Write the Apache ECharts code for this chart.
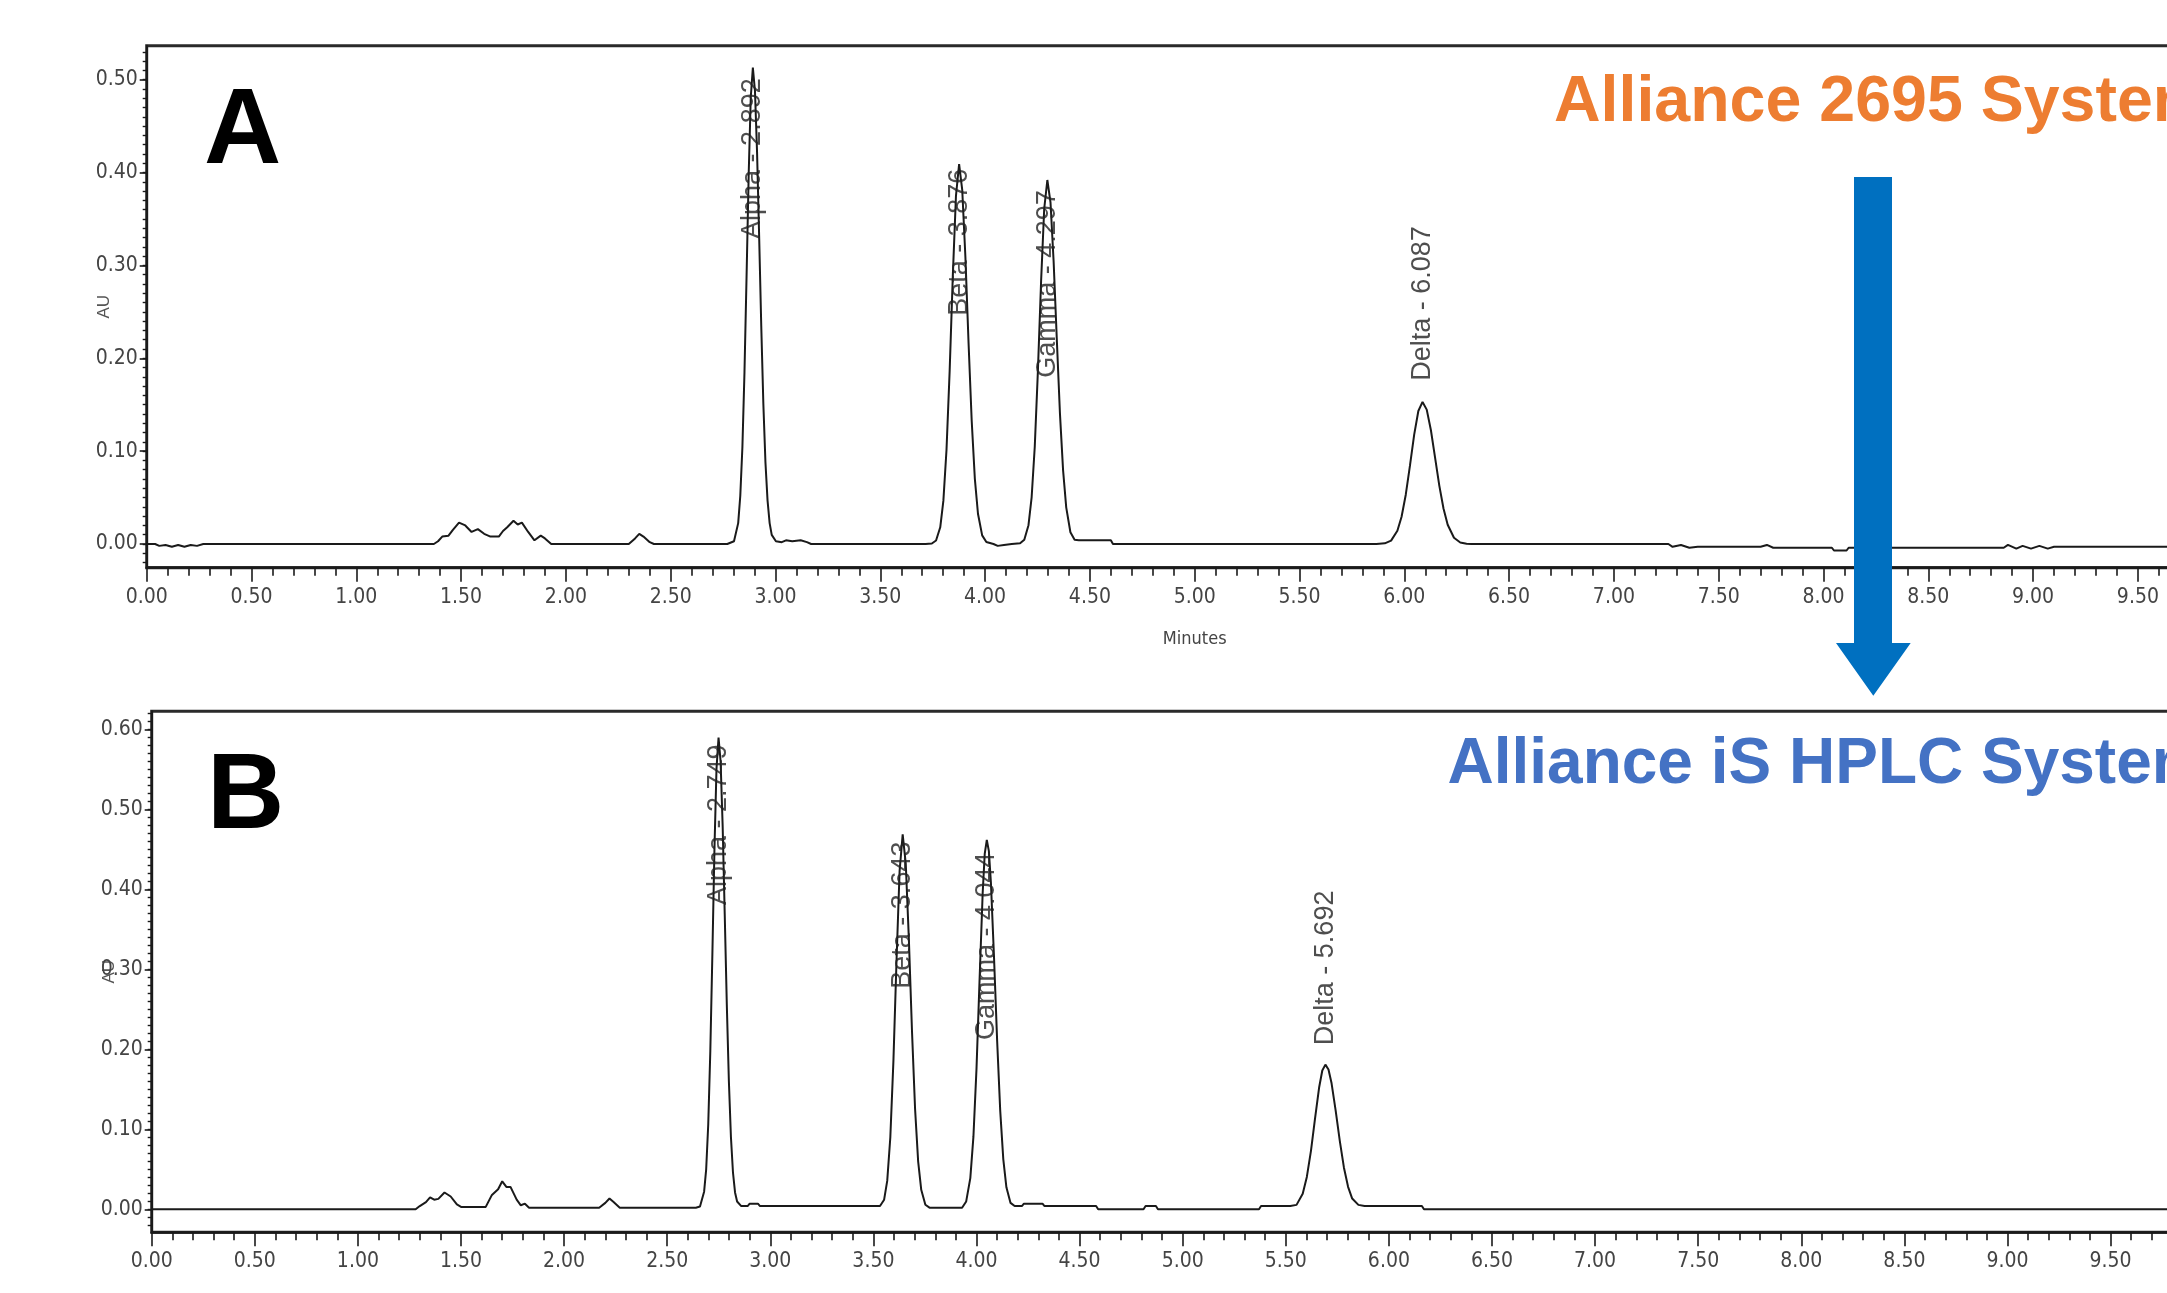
<!DOCTYPE html>
<html>
<head>
<meta charset="utf-8">
<title>Alliance 2695 vs Alliance iS HPLC</title>
<script src="https://cdn.jsdelivr.net/npm/echarts@6/dist/echarts.min.js"></script>
<style>
  html, body { margin: 0; padding: 0; background: #fff; }
  #chart { width: 2167px; height: 1293px; }
</style>
</head>
<body>
<div id="chart"></div>
<script>
// --- chromatogram A : Alliance 2695 (minutes / AU) ---
const timeA = [
  0, 0.04, 0.06, 0.09, 0.12, 0.15, 0.18, 0.21, 0.24, 0.27,
  1.37, 1.39, 1.41, 1.44, 1.46, 1.49, 1.52, 1.55, 1.58, 1.61, 1.64, 1.68, 1.70, 1.72, 1.75, 1.77, 1.79, 1.82, 1.85, 1.88, 1.90, 1.93,
  2.30, 2.33, 2.35, 2.37, 2.40, 2.42,
  2.77, 2.802, 2.822, 2.832, 2.842, 2.852, 2.862, 2.872, 2.882, 2.892, 2.902, 2.912, 2.922, 2.932, 2.942, 2.952, 2.962, 2.972, 2.982, 3.002,
  3.03, 3.05, 3.08, 3.12, 3.15, 3.17,
  3.716, 3.746, 3.766, 3.786, 3.801, 3.816, 3.831, 3.846, 3.861, 3.876, 3.891, 3.906, 3.921, 3.936, 3.951, 3.966, 3.986, 4.006,
  4.04, 4.06, 4.09,
  4.127, 4.167, 4.187, 4.207, 4.222, 4.237, 4.252, 4.267, 4.282, 4.297, 4.312, 4.327, 4.342, 4.357, 4.372, 4.387, 4.407, 4.427, 4.447,
  4.60, 4.61,
  5.867, 5.907, 5.937, 5.967, 5.987, 6.007, 6.027, 6.047, 6.067, 6.087, 6.107, 6.127, 6.147, 6.167, 6.187, 6.207, 6.237, 6.267, 6.297, 6.32,
  7.26, 7.28, 7.32, 7.36, 7.40, 7.70, 7.73, 7.76, 8.04, 8.05, 8.11, 8.12, 8.86, 8.88, 8.92, 8.95, 8.99, 9.03, 9.07, 9.10, 10.0
];
const auA = [
  0, 0, -0.002, -0.001, -0.003, -0.001, -0.003, -0.001, -0.002, 0,
  0, 0.003, 0.008, 0.009, 0.015, 0.023, 0.020, 0.013, 0.016, 0.011, 0.008, 0.008, 0.014, 0.018, 0.025, 0.021, 0.023, 0.013, 0.004, 0.009, 0.006, 0,
  0, 0.006, 0.011, 0.008, 0.002, 0,
  0, 0.003, 0.0225, 0.052, 0.104, 0.185, 0.289, 0.397, 0.481, 0.513, 0.488, 0.422, 0.331, 0.235, 0.151, 0.088, 0.047, 0.0225, 0.0098, 0.003,
  0.002, 0.004, 0.003, 0.004, 0.002, 0,
  0, 0.0006, 0.0038, 0.018, 0.0467, 0.102, 0.187, 0.289, 0.375, 0.409, 0.381, 0.309, 0.217, 0.133, 0.0705, 0.0326, 0.0093, 0.0021,
  0, -0.002, -0.001,
  0, 0.0008, 0.0047, 0.0203, 0.0503, 0.105, 0.187, 0.282, 0.361, 0.392, 0.368, 0.304, 0.221, 0.141, 0.0796, 0.0395, 0.0127, 0.0045, 0.004,
  0.004, 0,
  0, 0.0007, 0.0037, 0.0142, 0.0293, 0.0531, 0.0844, 0.1175, 0.1432, 0.153, 0.1447, 0.1225, 0.0928, 0.0629, 0.0382, 0.0207, 0.0067, 0.0017, 0.0003, 0,
  0, -0.003, -0.001, -0.004, -0.003, -0.003, -0.001, -0.004, -0.004, -0.007, -0.007, -0.004, -0.004, -0.001, -0.005, -0.002, -0.005, -0.002, -0.005, -0.003, -0.003
];

// --- chromatogram B : Alliance iS HPLC ---
const timeB = [
  0, 1.28, 1.30, 1.33, 1.35, 1.37, 1.39, 1.42, 1.45, 1.48, 1.50, 1.62, 1.65, 1.68, 1.70, 1.72, 1.74, 1.77, 1.79, 1.81, 1.83,
  2.17, 2.20, 2.22, 2.24, 2.27,
  2.639, 2.659, 2.679, 2.689, 2.699, 2.709, 2.719, 2.729, 2.739, 2.749, 2.759, 2.769, 2.779, 2.789, 2.799, 2.809, 2.819, 2.829, 2.839, 2.859,
  2.89, 2.90, 2.94, 2.95,
  3.532, 3.552, 3.567, 3.582, 3.597, 3.612, 3.627, 3.642, 3.657, 3.672, 3.687, 3.702, 3.717, 3.732, 3.752, 3.772,
  3.81, 3.90,
  3.93, 3.95, 3.97, 3.985, 4.00, 4.015, 4.03, 4.04, 4.05, 4.06, 4.07, 4.085, 4.10, 4.115, 4.13, 4.145, 4.165, 4.185,
  4.22, 4.23, 4.32, 4.33, 4.58, 4.59, 4.81, 4.82, 4.87, 4.88, 5.37, 5.38,
  5.522, 5.552, 5.582, 5.602, 5.622, 5.642, 5.662, 5.677, 5.692, 5.707, 5.722, 5.742, 5.762, 5.782, 5.802, 5.822, 5.852, 5.882,
  6.16, 6.17, 10.0
];
const auB = [
  0, 0, 0.004, 0.009, 0.015, 0.012, 0.013, 0.021, 0.016, 0.006, 0.003, 0.003, 0.018, 0.025, 0.035, 0.028, 0.028, 0.012, 0.005, 0.007, 0.002,
  0.002, 0.008, 0.0135, 0.009, 0.002,
  0.002, 0.0035, 0.022, 0.05, 0.106, 0.197, 0.318, 0.449, 0.551, 0.59, 0.56, 0.479, 0.369, 0.257, 0.161, 0.0907, 0.046, 0.0211, 0.0097, 0.004,
  0.004, 0.007, 0.007, 0.004,
  0.004, 0.012, 0.0355, 0.0898, 0.185, 0.310, 0.423, 0.469, 0.432, 0.338, 0.224, 0.126, 0.060, 0.0243, 0.0056, 0.002,
  0.002, 0.002,
  0.002, 0.0098, 0.039, 0.0905, 0.176, 0.288, 0.396, 0.445, 0.462, 0.448, 0.408, 0.315, 0.2115, 0.1234, 0.0625, 0.0275, 0.008, 0.004,
  0.004, 0.007, 0.007, 0.004, 0.004, 0, 0, 0.004, 0.004, 0, 0, 0.004,
  0.004, 0.0055, 0.0193, 0.0405, 0.0731, 0.114, 0.153, 0.1736, 0.181, 0.1748, 0.1576, 0.1232, 0.0852, 0.052, 0.0281, 0.0134, 0.0055, 0.004,
  0.004, 0, 0
];

// peak annotations: retention time and the AU height the vertical label is centred on
const peakNamesA = ['Alpha - 2.892', 'Beta - 3.876', 'Gamma - 4.297', 'Delta - 6.087'];
const peakTimesA = [2.892, 3.876, 4.297, 6.087];
const peakLabelAtA = [0.415, 0.325, 0.280, 0.259];
const peakNamesB = ['Alpha - 2.749', 'Beta - 3.643', 'Gamma - 4.044', 'Delta - 5.692'];
const peakTimesB = [2.749, 3.642, 4.05, 5.692];
const peakLabelAtB = [0.481, 0.368, 0.329, 0.302];

// axis ranges / tick labels
const xRange = [0, 10];
const yRangeA = [-0.0255, 0.5365];
const yRangeB = [-0.0288, 0.623];
const yLabelsA = [0, 0.1, 0.2, 0.3, 0.4, 0.5];
const yLabelsB = [0, 0.1, 0.2, 0.3, 0.4, 0.5, 0.6];

function hundredths(from, to) {
  const out = [];
  for (let i = Math.round(from * 100); i <= Math.round(to * 100); i++) out.push(i / 100);
  return out;
}

const NARROW = "'Liberation Sans Narrow', 'DejaVu Sans Condensed', 'Arial Narrow', sans-serif";
const ARIAL = "'Liberation Sans', Arial, Helvetica, sans-serif";
const INK = '#1a1a1a';

function xAxisFor(idx) {
  return {
    gridIndex: idx, type: 'value', min: xRange[0], max: xRange[1], interval: 0.5,
    name: 'Minutes', nameLocation: 'middle', nameGap: 63, nameMoveOverlap: false,
    nameTextStyle: { fontFamily: NARROW, fontSize: 18, color: '#444' },
    axisLine: { onZero: false, lineStyle: { color: INK, width: 2.5 } },
    axisTick: { length: 14, lineStyle: { color: INK, width: 1.6 } },
    minorTick: { show: true, splitNumber: 5, length: 8, lineStyle: { color: INK, width: 1.6 } },
    splitLine: { show: false },
    axisLabel: { margin: 19, color: '#444', fontFamily: NARROW, fontSize: 21, formatter: v => v.toFixed(2) }
  };
}

function yAxesFor(idx, range, labels) {
  return [
    {
      gridIndex: idx, type: 'value', min: range[0], max: range[1], position: 'left',
      name: 'AU', nameLocation: 'middle', nameRotate: 90, nameGap: 34, nameMoveOverlap: false,
      nameTextStyle: { fontFamily: ARIAL, fontSize: 17, color: '#555' },
      axisLine: { onZero: false, lineStyle: { color: INK, width: 2 } },
      axisTick: { customValues: labels, length: 7, lineStyle: { color: INK, width: 1.6 } },
      splitLine: { show: false },
      axisLabel: { customValues: labels, margin: 9, color: '#444', fontFamily: NARROW, fontSize: 21, formatter: v => v.toFixed(2) }
    },
    {
      gridIndex: idx, type: 'value', min: range[0], max: range[1], position: 'left',
      axisLine: { show: false },
      axisTick: { customValues: hundredths(-0.02, range[1]), length: 4, lineStyle: { color: INK, width: 1.4 } },
      axisLabel: { show: false },
      splitLine: { show: false }
    }
  ];
}

function traceSeries(idx, t, au) {
  return {
    type: 'line', xAxisIndex: idx, yAxisIndex: idx * 2,
    data: t.map((x, i) => [x, au[i]]),
    showSymbol: false, smooth: false,
    lineStyle: { color: INK, width: 2 }
  };
}

function peakLabelSeries(idx, times, at, names) {
  return {
    type: 'scatter', xAxisIndex: idx, yAxisIndex: idx * 2, silent: true,
    symbolSize: 0.1, itemStyle: { color: 'transparent' },
    data: times.map((t, i) => [t, at[i], names[i]]),
    label: {
      show: true, position: 'inside', rotate: 90, align: 'center', verticalAlign: 'middle',
      formatter: p => p.data[2], fontFamily: ARIAL, fontSize: 27, color: '#222'
    },
    z: 5
  };
}

const chart = echarts.init(document.getElementById('chart'), null, { renderer: 'canvas' });
chart.setOption({
  animation: false,
  backgroundColor: '#fff',
  grid: [
    { left: 146.7, top: 45.8, right: -75.7, bottom: 725.3, outerBoundsMode: 'none', containLabel: false,
      show: true, borderColor: '#2a2a2a', borderWidth: 3, backgroundColor: 'transparent' },
    { left: 151.7, top: 711.3, right: -46.7, bottom: 60.7, outerBoundsMode: 'none', containLabel: false,
      show: true, borderColor: '#2a2a2a', borderWidth: 3, backgroundColor: 'transparent' }
  ],
  xAxis: [xAxisFor(0), xAxisFor(1)],
  yAxis: [...yAxesFor(0, yRangeA, yLabelsA), ...yAxesFor(1, yRangeB, yLabelsB)],
  series: [
    traceSeries(0, timeA, auA),
    traceSeries(1, timeB, auB),
    peakLabelSeries(0, peakTimesA, peakLabelAtA, peakNamesA),
    peakLabelSeries(1, peakTimesB, peakLabelAtB, peakNamesB)
  ],
  graphic: [
    { type: 'text', x: 204, y: 80, z: 100, style: { text: 'A', font: 'bold 107px ' + ARIAL, fill: '#000', verticalAlign: 'top' } },
    { type: 'text', x: 207, y: 745, z: 100, style: { text: 'B', font: 'bold 107px ' + ARIAL, fill: '#000', verticalAlign: 'top' } },
    { type: 'text', x: 1554, y: 71, z: 100, style: { text: 'Alliance 2695 System', font: 'bold 64.5px ' + ARIAL, fill: '#ED7D31', verticalAlign: 'top' } },
    { type: 'text', x: 1447.5, y: 733, z: 100, style: { text: 'Alliance iS HPLC System', font: 'bold 64px ' + ARIAL, fill: '#4472C4', verticalAlign: 'top' } },
    {
      type: 'polygon', z: 100,
      shape: { points: [[1854, 177], [1892, 177], [1892, 643], [1910.7, 643], [1873.3, 695.7], [1836, 643], [1854, 643]] },
      style: { fill: '#0070C0' }
    }
  ]
});
</script>
</body>
</html>
